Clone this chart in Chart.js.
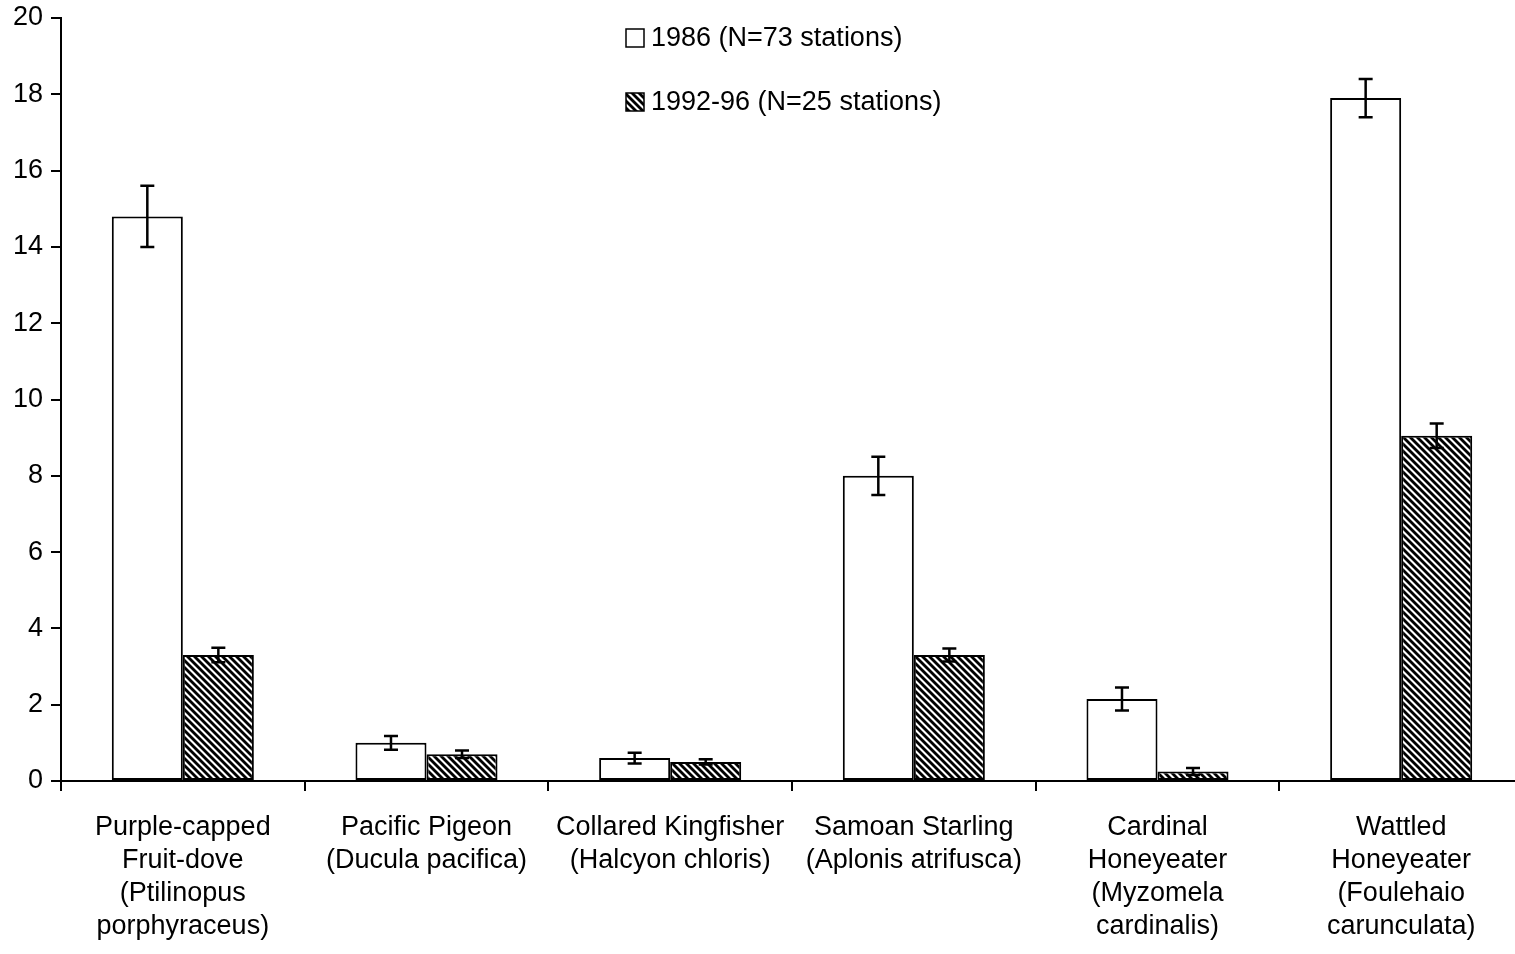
<!DOCTYPE html>
<html>
<head>
<meta charset="utf-8">
<title>Bird abundance 1986 vs 1992-96</title>
<script src="https://cdn.jsdelivr.net/npm/chart.js@4.4.1/dist/chart.umd.min.js"></script>
<style>
  html, body { margin: 0; padding: 0; background: #fff; overflow: hidden; }
  #wrap { width: 1530px; height: 954px; }
</style>
</head>
<body>
<div id="wrap"><canvas id="c" width="1530" height="954"></canvas></div>
<script>
// Species (category labels, one line per array entry)
const categories = [
  ['Purple-capped', 'Fruit-dove', '(Ptilinopus', 'porphyraceus)'],
  ['Pacific Pigeon', '(Ducula pacifica)'],
  ['Collared Kingfisher', '(Halcyon chloris)'],
  ['Samoan Starling', '(Aplonis atrifusca)'],
  ['Cardinal', 'Honeyeater', '(Myzomela', 'cardinalis)'],
  ['Wattled', 'Honeyeater', '(Foulehaio', 'carunculata)']
];

// Mean counts per station and their error (±) values
const series1986 = [14.8, 1.0, 0.6, 8.0, 2.15, 17.9];
const errors1986 = [0.8, 0.18, 0.14, 0.5, 0.3, 0.5];
const series1992 = [3.3, 0.7, 0.5, 3.3, 0.25, 9.05];
const errors1992 = [0.19, 0.1, 0.07, 0.17, 0.09, 0.32];

const seriesLabels = ['1986 (N=73 stations)', '1992-96 (N=25 stations)'];

// Y axis range and step
const yMin = 0, yMax = 20, yStep = 2;

const FONT = '"Liberation Sans", Arial, Helvetica, sans-serif';

// Diagonal hatch fill for the second series
function makeHatch() {
  const s = 7;
  const t = document.createElement('canvas');
  t.width = s; t.height = s;
  const g = t.getContext('2d');
  g.fillStyle = '#fff';
  g.fillRect(0, 0, s, s);
  g.strokeStyle = '#000';
  g.lineWidth = 2.8;
  for (const x0 of [-s, 0, s]) {
    g.beginPath();
    g.moveTo(x0 - 1, -1);
    g.lineTo(x0 + s + 1, s + 1);
    g.stroke();
  }
  return document.getElementById('c').getContext('2d').createPattern(t, 'repeat');
}
const hatch = makeHatch();

// Error bars drawn over each bar
const errorBarPlugin = {
  id: 'errorBars',
  afterDatasetsDraw(chart) {
    const ctx = chart.ctx;
    const y = chart.scales.y;
    chart.data.datasets.forEach((ds, i) => {
      const meta = chart.getDatasetMeta(i);
      meta.data.forEach((bar, j) => {
        const v = ds.data[j], e = ds.errors[j];
        const yt = y.getPixelForValue(v + e);
        const yb = y.getPixelForValue(Math.max(v - e, 0));
        const x = bar.x, cap = 7;
        ctx.save();
        ctx.strokeStyle = '#000';
        ctx.lineWidth = 2.5;
        ctx.beginPath();
        ctx.moveTo(x, yt); ctx.lineTo(x, yb);
        ctx.moveTo(x - cap, yt); ctx.lineTo(x + cap, yt);
        ctx.moveTo(x - cap, yb); ctx.lineTo(x + cap, yb);
        ctx.stroke();
        ctx.restore();
      });
    });
  }
};

// Legend stacked inside the plot area
const stackedLegend = {
  id: 'stackedLegend',
  afterDraw(chart, args, opts) {
    const ctx = chart.ctx;
    const { left, top } = chart.chartArea;
    chart.data.datasets.forEach((ds, i) => {
      const bx = left + opts.x;
      const cy = top + opts.y + i * opts.gap;
      ctx.save();
      ctx.fillStyle = ds.backgroundColor;
      ctx.fillRect(bx, cy - 9, 18, 18);
      ctx.strokeStyle = '#000';
      ctx.lineWidth = 1.5;
      ctx.strokeRect(bx, cy - 9, 18, 18);
      ctx.fillStyle = '#000';
      ctx.font = '27px ' + FONT;
      ctx.textBaseline = 'middle';
      ctx.textAlign = 'left';
      ctx.fillText(ds.label, bx + 25, cy + 1);
      ctx.restore();
    });
  }
};

const xTickFont = { family: FONT, size: 27, lineHeight: 1.22 };
const yTickFont = { family: FONT, size: 27, lineHeight: 1.0 };

new Chart(document.getElementById('c'), {
  type: 'bar',
  data: {
    labels: categories,
    datasets: [
      {
        label: seriesLabels[0],
        data: series1986,
        errors: errors1986,
        backgroundColor: '#ffffff',
        borderColor: '#000000',
        borderWidth: 2,
        borderSkipped: false
      },
      {
        label: seriesLabels[1],
        data: series1992,
        errors: errors1992,
        backgroundColor: hatch,
        borderColor: '#000000',
        borderWidth: 2,
        borderSkipped: false
      }
    ]
  },
  options: {
    responsive: false,
    devicePixelRatio: 1,
    animation: false,
    layout: { padding: { left: 0, top: 18, right: 7, bottom: 0 } },
    datasets: { bar: { categoryPercentage: 0.583, barPercentage: 1.0 } },
    plugins: {
      legend: { display: false },
      tooltip: { enabled: false },
      stackedLegend: { x: 565, y: 20, gap: 64 }
    },
    scales: {
      x: {
        offset: true,
        grid: {
          display: true, offset: true, drawOnChartArea: false, drawTicks: true,
          tickLength: 10, color: '#000', lineWidth: 2
        },
        border: { display: true, color: '#000', width: 2 },
        ticks: { color: '#000', font: xTickFont, padding: 20, maxRotation: 0, autoSkip: false },
        afterFit(scale) {
          scale.height = 173;
          scale.paddingLeft = 0;
          scale.paddingRight = 0;
        }
      },
      y: {
        min: yMin, max: yMax,
        grid: {
          display: true, drawOnChartArea: false, drawTicks: true,
          tickLength: 10, color: '#000', lineWidth: 2
        },
        border: { display: true, color: '#000', width: 2 },
        ticks: { stepSize: yStep, color: '#000', font: yTickFont, padding: 8 },
        afterFit(scale) {
          scale.width = 61;
          scale.paddingTop = 0;
          scale.paddingBottom = 0;
        }
      }
    }
  },
  plugins: [errorBarPlugin, stackedLegend]
});
</script>
</body>
</html>
